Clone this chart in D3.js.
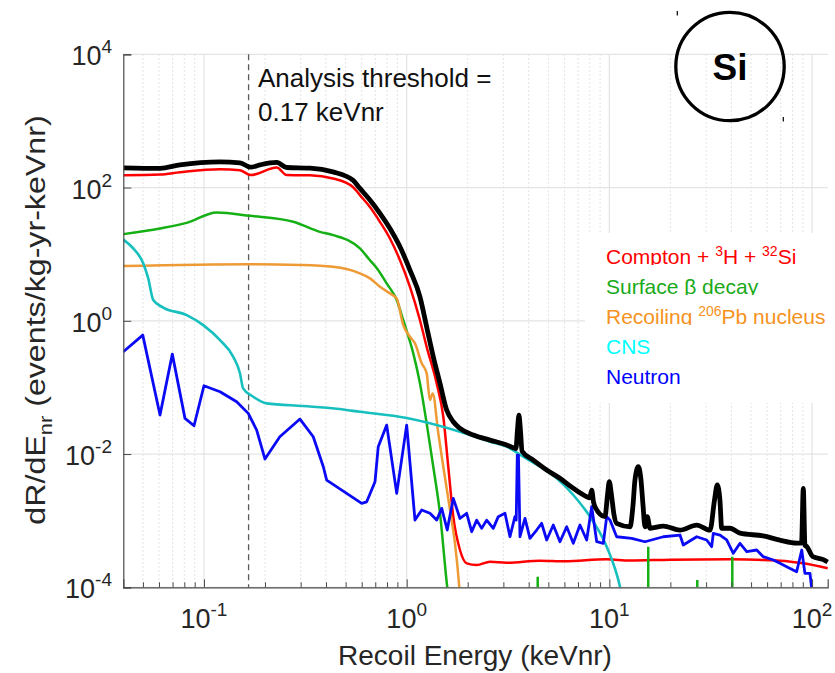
<!DOCTYPE html>
<html><head><meta charset="utf-8">
<script src="https://cdn.jsdelivr.net/npm/d3@7"></script>
<style>body{margin:0;background:#fff} text{font-family:"Liberation Sans",Arial,Helvetica,sans-serif}</style>
</head><body><svg id="c" width="835" height="673"></svg>
<script>
// ---------- data (energy keVnr, rate events/kg-yr-keVnr) ----------
const xTicks=[0.1,1,10,100];
const xTickExp=["-1","0","1","2"];
const yTicks=[1e-4,1e-2,1,1e2,1e4];
const yTickExp=["-4","-2","0","2","4"];
const threshold=0.166;

const total=[[0.040,198],[0.0607,194],[0.0762,219],[0.120,243],[0.1506,235],[0.17,202],[0.189,219],[0.2284,238],[0.2559,200],[0.3334,196],[0.4328,172],[0.543,129],[0.588,97],[0.659,65],[0.738,41],[0.827,24.3],[0.927,12.9],[1.038,5.76],[1.163,2.29],[1.255,0.81],[1.353,0.288],[1.460,0.115],[1.575,0.0457],[1.698,0.0305],[1.832,0.0243],[2.132,0.0193],[2.576,0.0162],[3.113,0.0137],[3.46,0.0121],[3.52,0.0229],[3.58,0.0385],[3.64,0.0229],[3.71,0.0110],[4.213,0.0081],[4.906,0.00575],[5.705,0.00432],[6.637,0.00306],[7.727,0.00229],[8.0,0.0022],[8.18,0.00288],[8.35,0.0019],[8.49,0.00162],[9.51,0.00115],[9.79,0.00243],[9.99,0.00384],[10.24,0.00243],[10.54,0.00122],[10.86,0.00091],[12.64,0.00081],[13.08,0.00172],[13.37,0.00407],[13.89,0.00645],[14.32,0.00407],[14.65,0.00172],[14.99,0.00081],[15.38,0.00115],[15.86,0.00077],[18.45,0.00083],[22.3,0.00072],[26.97,0.00086],[31.36,0.00072],[33.0,0.00204],[34.05,0.00343],[35.1,0.00204],[35.81,0.00077],[39.36,0.00077],[44.1,0.00065],[57.4,0.00059],[69.4,0.00051],[83.9,0.00046],[88.7,0.00046],[90.5,0.00306],[92.2,0.00043],[94.1,0.00041],[100.7,0.00029],[113.6,0.00026],[119.4,0.00024]];

const compton=[[0.040,153],[0.0607,157],[0.0762,170],[0.120,189],[0.1506,182],[0.17,154],[0.2284,200],[0.2559,154],[0.3334,153],[0.4328,137],[0.543,102],[0.588,77],[0.659,51],[0.738,30.6],[0.827,17.2],[0.927,8.1],[1.038,3.24],[1.163,1.02],[1.255,0.407],[1.406,0.115],[1.516,0.0363],[1.604,0.00645],[1.698,0.00115],[1.832,0.000363],[1.977,0.000229],[2.215,0.000216],[2.576,0.000242],[3.113,0.000234],[4.546,0.000251],[6.0,0.000245],[9.70,0.000263],[12.64,0.000253],[20,0.00026],[39.36,0.000263],[69.4,0.000251],[90.5,0.000229],[119.4,0.000193]];

const surface=[[0.040,20.0],[0.0607,24.3],[0.0822,29.5],[0.1155,42.3],[0.1686,37.6],[0.2758,30.6],[0.3734,21.6],[0.4345,19.3],[0.588,12.2],[0.659,8.1],[0.711,6.2],[0.797,3.64],[0.893,2.05],[0.962,1.02],[1.078,0.324],[1.163,0.115],[1.255,0.0289],[1.353,0.00645],[1.460,0.00129],[1.585,0.000101],[1.65,0.00004]];
const surfacePeaks=[[4.43,1.44e-4],[15.55,4.07e-4],[27.14,1.29e-4],[40.4,2.88e-4]];

const recoil=[[0.040,6.62],[0.1686,7.09],[0.2976,6.9],[0.4328,6.46],[0.588,5.14],[0.659,4.33],[0.738,3.24],[0.827,2.58],[0.876,2.29],[0.893,2.17],[0.962,0.862],[1.038,0.575],[1.099,0.458],[1.186,0.230],[1.255,0.1625],[1.303,0.0646],[1.344,0.0814],[1.432,0.0205],[1.516,0.00645],[1.636,0.00145],[1.731,0.000457],[1.818,0.000101],[1.85,0.00005]];

const cns=[[0.040,16.6],[0.0448,12.2],[0.0502,7.27],[0.0531,4.33],[0.0562,2.05],[0.0627,1.59],[0.0822,1.22],[0.0992,0.862],[0.120,0.513],[0.1395,0.288],[0.1506,0.162],[0.156,0.0968],[0.175,0.0724],[0.2038,0.0576],[0.309,0.0525],[0.4515,0.0478],[0.588,0.0431],[1.0,0.0347],[1.832,0.0216],[2.576,0.0153],[3.113,0.0129],[3.761,0.00912],[4.546,0.00645],[5.496,0.00432],[6.637,0.00243],[8.02,0.00115],[9.70,0.000407],[11.28,0.000102],[11.7,0.00006]];

const neutron=[[0.040,0.343],[0.0499,0.610],[0.0607,0.0385],[0.0698,0.316],[0.0806,0.0343],[0.0893,0.0266],[0.100,0.106],[0.120,0.0861],[0.145,0.0610],[0.1654,0.0408],[0.182,0.0229],[0.200,0.00841],[0.2367,0.0182],[0.2976,0.0335],[0.346,0.0182],[0.388,0.00645],[0.403,0.00407],[0.600,0.00182],[0.635,0.00192],[0.698,0.00384],[0.724,0.0129],[0.797,0.0272],[0.893,0.00257],[1.0,0.0272],[1.099,0.00102],[1.186,0.00145],[1.303,0.00129],[1.406,0.00102],[1.489,0.00153],[1.585,0.000724],[1.698,0.00216],[1.832,0.00108],[1.977,0.00129],[2.093,0.000683],[2.215,0.00102],[2.344,0.000767],[2.481,0.00102],[2.674,0.000767],[2.831,0.00115],[3.055,0.00129],[3.233,0.000574],[3.42,0.00115],[3.47,0.00102],[3.513,0.00966],[3.56,0.00966],[3.622,0.000574],[3.834,0.00108],[4.056,0.000543],[4.377,0.000724],[4.634,0.000912],[4.906,0.000513],[5.288,0.000861],[5.705,0.000483],[6.157,0.000811],[6.637,0.000457],[7.16,0.000861],[7.727,0.000513],[8.18,0.00162],[8.66,0.000483],[9.33,0.000457],[9.70,0.00115],[10.07,0.00102],[10.86,0.000574],[12.88,0.000543],[14.99,0.000483],[18.45,0.000574],[22.3,0.000609],[23.15,0.000431],[26.97,0.000574],[30.2,0.000513],[31.97,0.000407],[32.55,0.000646],[35.13,0.000609],[37.9,0.000513],[40.86,0.000324],[44.1,0.000457],[47.6,0.000342],[53.3,0.000363],[57.4,0.000288],[64.4,0.000257],[69.4,0.000229],[74.9,0.000204],[83.9,0.000171],[88.9,0.000363],[92.2,0.000162],[97.6,0.000162],[99.5,0.0000977],[100,0.00005]];

const legendLabels=["Compton","Surface","Recoiling","CNS","Neutron"];

// ---------- layout ----------
const svg=d3.select("#c");
const X0=123.3,X1=827.7,Y0=54.3,Y1=587.3;
const x=d3.scaleLog().domain([0.04,119.4]).range([X0,X1]);
const y=d3.scaleLog().domain([1e-4,1e4]).range([Y1,Y0]);

const minorX=[];
for(let e=-2;e<=2;e++)for(let k=2;k<=9;k++){const v=+(k*Math.pow(10,e)).toPrecision(6);if(v>0.0401&&v<119)minorX.push(v);}

// grid
const g=svg.append("g");
g.selectAll(".mx").data(minorX).join("line").attr("x1",d=>x(d)).attr("x2",d=>x(d)).attr("y1",Y0).attr("y2",Y1)
 .attr("stroke","#d2d2d2").attr("stroke-width",0.8).attr("stroke-dasharray","1.5,2.5");
g.selectAll(".Mx").data(xTicks).join("line").attr("x1",d=>x(d)).attr("x2",d=>x(d)).attr("y1",Y0).attr("y2",Y1)
 .attr("stroke","#e4e4e4").attr("stroke-width",1.2);
g.selectAll(".My").data(yTicks).join("line").attr("y1",d=>y(d)).attr("y2",d=>y(d)).attr("x1",X0).attr("x2",X1)
 .attr("stroke","#e4e4e4").attr("stroke-width",1.2);

// legend background
svg.append("rect").attr("x",585).attr("y",233).attr("width",243).attr("height",170).attr("fill","#fff");

// threshold
svg.append("line").attr("x1",x(threshold)).attr("x2",x(threshold)).attr("y1",Y0).attr("y2",Y1)
 .attr("stroke","#5a5a5a").attr("stroke-width",1.3).attr("stroke-dasharray","6,4");

// clip
svg.append("clipPath").attr("id","pc").append("rect").attr("x",X0).attr("y",Y0-3).attr("width",X1-X0+2).attr("height",Y1-Y0+3);
const plot=svg.append("g").attr("clip-path","url(#pc)");
const smooth=d3.line().x(d=>x(d[0])).y(d=>y(d[1])).curve(d3.curveMonotoneX);
const sharp=d3.line().x(d=>x(d[0])).y(d=>y(d[1]));
const series=[
 {d:compton,c:"#ff0000",w:2.5,l:smooth},
 {d:surface,c:"#14b014",w:2.5,l:smooth},
 {d:recoil,c:"#ee9a35",w:2.5,l:smooth},
 {d:cns,c:"#18bfbf",w:2.6,l:smooth},
 {d:neutron,c:"#0a0af5",w:2.8,l:sharp},
 {d:total,c:"#000000",w:4.8,l:smooth}
];
series.forEach(s=>plot.append("path").attr("d",s.l(s.d)).attr("fill","none").attr("stroke",s.c)
 .attr("stroke-width",s.w).attr("stroke-linejoin","round"));
plot.selectAll(".gp").data(surfacePeaks).join("line").attr("x1",d=>x(d[0])).attr("x2",d=>x(d[0]))
 .attr("y1",y(1e-4)).attr("y2",d=>y(d[1])).attr("stroke","#14b014").attr("stroke-width",2.5);

// axes
svg.append("g").attr("transform",`translate(0,${Y1})`)
 .call(d3.axisBottom(x).tickValues(xTicks).tickSize(-8).tickFormat(""));
const axm=svg.append("g").attr("transform",`translate(0,${Y1})`)
 .call(d3.axisBottom(x).tickValues(minorX).tickSize(-5).tickFormat(""));
axm.select(".domain").remove();
svg.append("g").attr("transform",`translate(${X0},0)`)
 .call(d3.axisLeft(y).tickValues(yTicks).tickSize(-8).tickFormat(""));
svg.selectAll(".domain").attr("stroke","#4a4a4a").attr("stroke-width",1.2);
svg.selectAll(".tick line").attr("stroke","#4a4a4a").attr("stroke-width",1);

// tick labels
xTicks.forEach((v,i)=>{
 const t=svg.append("text").attr("x",x(v)).attr("y",628).attr("text-anchor","middle").attr("fill","#262626").attr("font-size",27);
 t.append("tspan").text("10");
 t.append("tspan").attr("font-size",19).attr("dy",-12).text(xTickExp[i]);
});
yTicks.forEach((v,i)=>{
 const t=svg.append("text").attr("x",112).attr("y",y(v)+11).attr("text-anchor","end").attr("fill","#262626").attr("font-size",27);
 t.append("tspan").text("10");
 t.append("tspan").attr("font-size",19).attr("dy",-12).text(yTickExp[i]);
});

// axis titles
svg.append("text").attr("x",475).attr("y",665).attr("text-anchor","middle").attr("font-size",28).attr("fill","#262626")
 .text("Recoil Energy (keVnr)");
const yl=svg.append("text").attr("transform","translate(45,320) rotate(-90) scale(1.15,1)").attr("text-anchor","middle")
 .attr("font-size",28).attr("fill","#262626");
yl.append("tspan").text("dR/dE");
yl.append("tspan").attr("font-size",19).attr("dy",7).text("nr");
yl.append("tspan").attr("dy",-7).text(" (events/kg-yr-keVnr)");

// annotation
svg.append("text").attr("x",258).attr("y",87).attr("font-size",26).attr("fill","#111").text("Analysis threshold =");
svg.append("text").attr("x",258).attr("y",121).attr("font-size",26).attr("fill","#111").text("0.17 keVnr");

// legend
const legColors=["#ff0000","#19a919","#f6921e","#00ffff","#0000ff"];
const legParts=[
 [["Compton + ",0],["3",1],["H + ",0],["32",1],["Si",0]],
 [["Surface β decay",0]],
 [["Recoiling ",0],["206",1],["Pb nucleus",0]],
 [["CNS",0]],
 [["Neutron",0]]
];
legendLabels.forEach((name,i)=>{
 const by=263.5+30*i;
 svg.append("clipPath").attr("id","lc"+i).append("rect").attr("x",590).attr("y",by-26).attr("width",240).attr("height",27.5);
 const t=svg.append("text").attr("x",606).attr("y",by).attr("font-size",21).attr("fill",legColors[i]).attr("clip-path",`url(#lc${i})`);
 let sup=false;
 legParts[i].forEach(p=>{
  const ts=t.append("tspan").text(p[0]);
  if(p[1]&&!sup){ts.attr("font-size",14).attr("dy",-8);sup=true;}
  else if(!p[1]&&sup){ts.attr("dy",8);sup=false;}
  else if(p[1]) ts.attr("font-size",14);
 });
});

// Si badge
svg.append("circle").attr("cx",730).attr("cy",66.5).attr("r",54.2).attr("fill","none").attr("stroke","#000").attr("stroke-width",3.3);
svg.append("text").attr("x",730).attr("y",80).attr("text-anchor","middle").attr("font-size",37).attr("font-weight","bold").text("Si");
svg.append("line").attr("x1",677.3).attr("x2",677.3).attr("y1",11).attr("y2",15.5).attr("stroke","#000").attr("stroke-width",1.2);
svg.append("line").attr("x1",783.3).attr("x2",783.3).attr("y1",117).attr("y2",121.5).attr("stroke","#000").attr("stroke-width",1.2);
</script></body></html>
